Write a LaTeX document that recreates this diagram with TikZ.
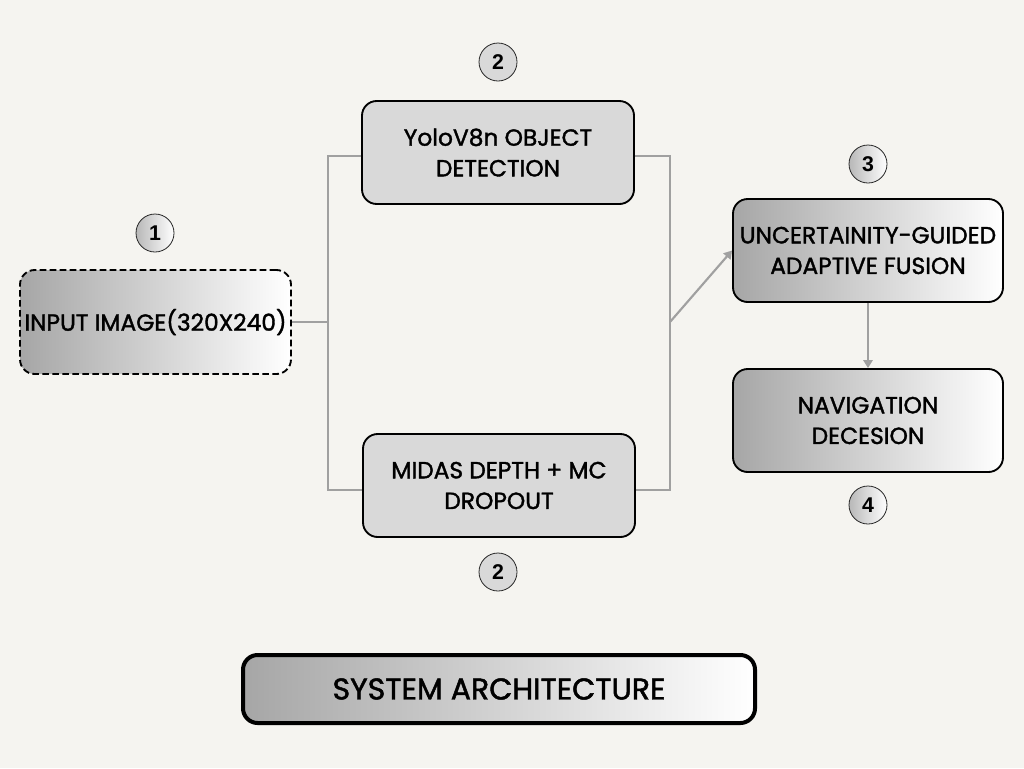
\documentclass[tikz,border=0pt]{standalone}
\usepackage{fontspec}
\setmainfont{Poppins}
\newfontfamily\popb{Poppins}[FakeBold=1.6]
\newfontfamily\numfont{Liberation Sans}
\usetikzlibrary{arrows.meta}
\definecolor{bg}{HTML}{F5F4F0}
\definecolor{boxgray}{HTML}{D9D9D9}
\definecolor{gradl}{HTML}{A6A6A6}
\definecolor{linegray}{HTML}{A0A0A0}
\tikzset{
  base/.style={rounded corners=11pt, draw=black, line width=1.4pt, align=center,
    font=\popb\fontsize{17.5}{23}\selectfont, inner sep=0pt},
  gradbox/.style={base, left color=gradl, right color=white, minimum width=202.5pt, minimum height=77.25pt},
  flatbox/.style={base, fill=boxgray, minimum width=204pt, minimum height=77.25pt},
  numc/.style={circle, draw=black!85, line width=0.6pt, minimum size=28.5pt, inner sep=0pt,
    font=\numfont\bfseries\fontsize{16}{16}\selectfont},
  numg/.style={numc, left color=gradl!80, right color=white},
  numf/.style={numc, fill=boxgray},
  conn/.style={draw=linegray, line width=1.9pt},
  arr/.style={draw=linegray, line width=1.6pt, -{Triangle[width=7pt,length=6pt]}}
}
\begin{document}
\begin{tikzpicture}[x=0.75pt,y=-0.75pt]
\fill[bg] (0,0) rectangle (1024,768);
\useasboundingbox (0,0) rectangle (1024,768);
% nodes
\node[gradbox, dash pattern=on 5pt off 2.5pt, minimum width=203.25pt, minimum height=78pt] (inp) at (155.5,322) {INPUT IMAGE(320X240)};
\node[flatbox] (yolo) at (498,152.5) {YoloV8n OBJECT\\DETECTION};
\node[flatbox] (midas) at (499,485.5) {MIDAS DEPTH + MC\\DROPOUT};
\node[gradbox] (fus) at (868,250.5) {UNCERTAINITY-GUIDED\\ADAPTIVE FUSION};
\node[gradbox] (nav) at (868,420.5) {NAVIGATION\\DECESION};
\node[base, line width=3pt, left color=gradl, right color=white, minimum width=384pt, minimum height=51pt,
  font=\popb\fontsize{22.5}{22.5}\selectfont] (title) at (499,689) {SYSTEM ARCHITECTURE};
% number circles
\node[numg] (n1) at (155,233) {1};
\node[numf] (n2a) at (498,62) {2};
\node[numf] (n2b) at (498,572) {2};
\node[numg] (n3) at (868,164) {3};
\node[numg] (n4) at (868,505) {4};
% connectors
\coordinate (jl) at (328,322);
\coordinate (jr) at (670,322);
\draw[conn] (inp.east) -- (jl);
\draw[conn] ([yshift=-2.6pt]yolo.west) -| (jl) |- ([yshift=-3.4pt]midas.west);
\draw[conn] ([yshift=-2.6pt]yolo.east) -| (jr) |- ([yshift=-3.4pt]midas.east);
\draw[arr] (jr) -- (fus.west);
\draw[arr] (fus.south) -- (nav.north);
\end{tikzpicture}
\end{document}
